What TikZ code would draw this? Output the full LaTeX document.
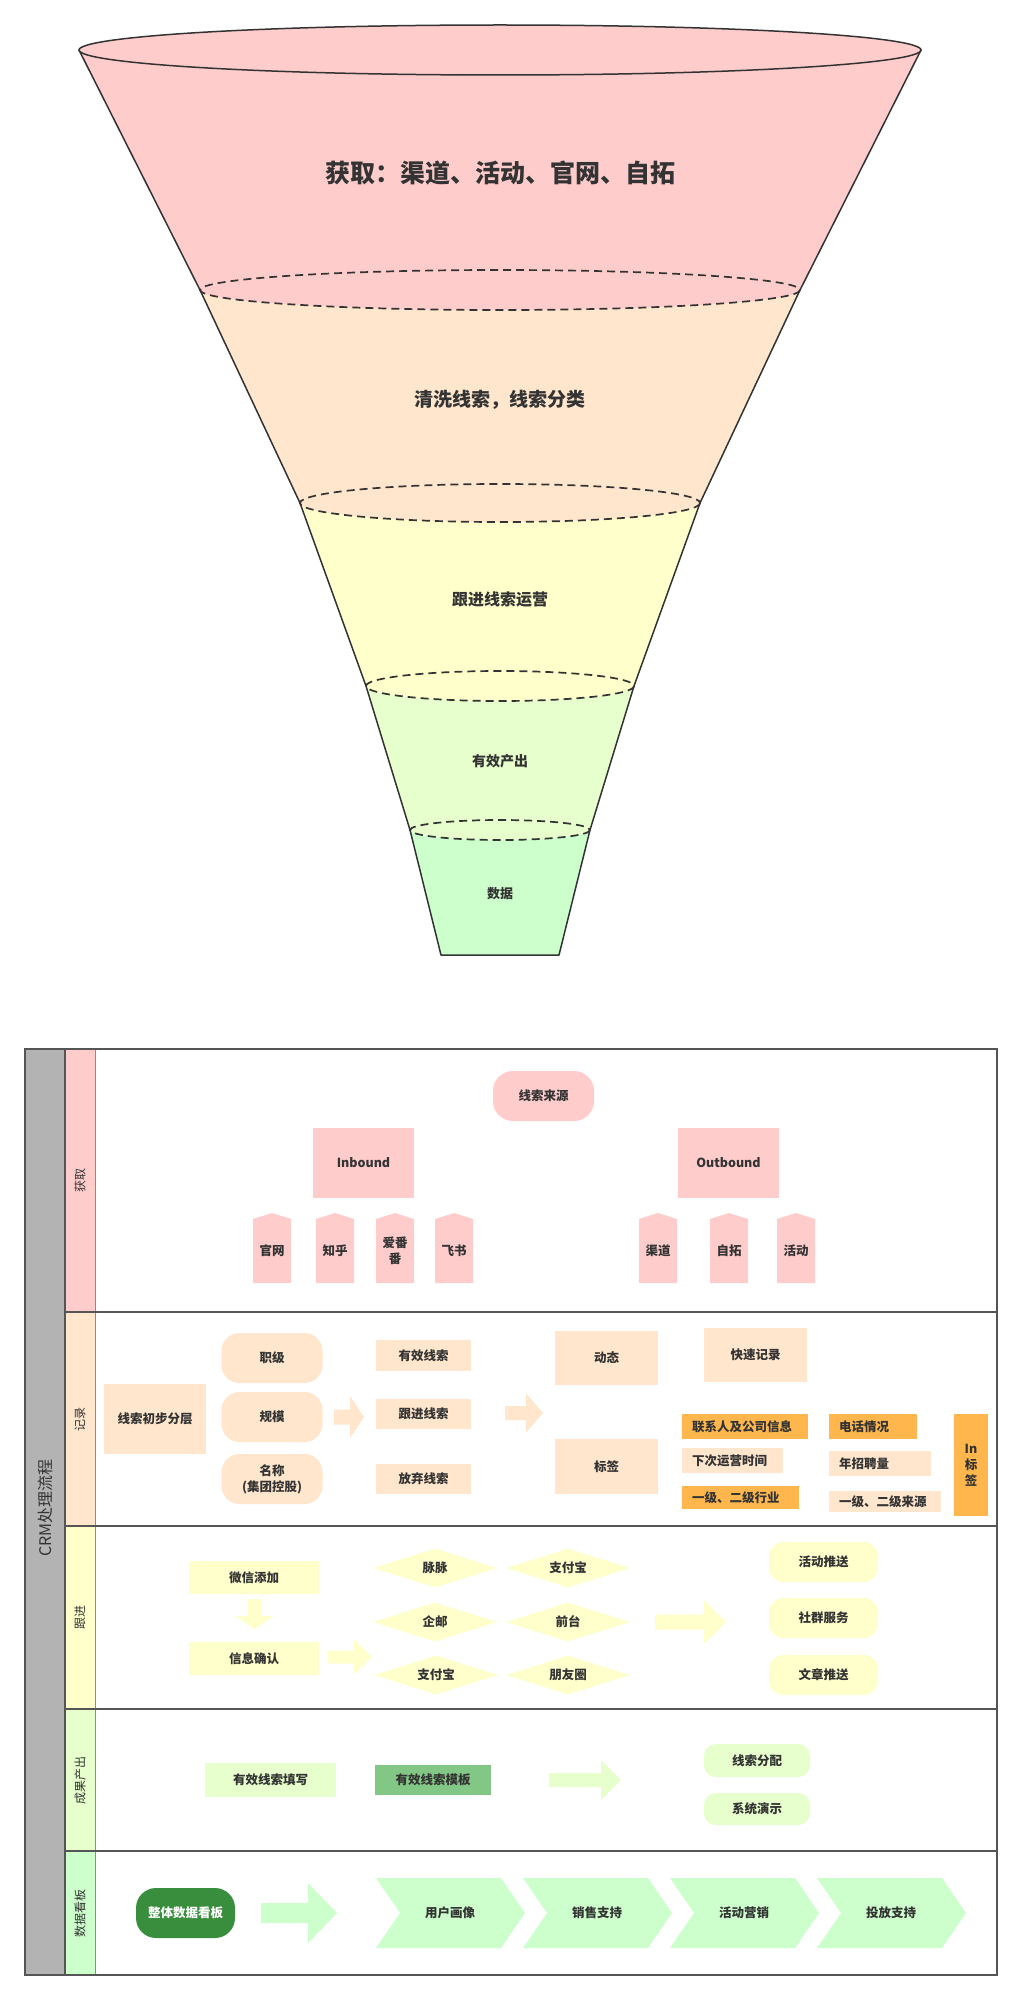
\documentclass[tikz,border=0pt]{standalone}
\usepackage{fontspec}
\setmainfont{Noto Sans CJK SC}
\usetikzlibrary{shapes.geometric}
\definecolor{cpink}{HTML}{FFCCCC}
\definecolor{cpeach}{HTML}{FFE6CC}
\definecolor{cyellow}{HTML}{FFFFCC}
\definecolor{clgreen}{HTML}{E6FFCC}
\definecolor{cgreen}{HTML}{CCFFCC}
\definecolor{corange}{HTML}{FFB74D}
\definecolor{cdkgreen}{HTML}{388E3C}
\definecolor{cmidgreen}{HTML}{82C785}
\definecolor{ctext}{HTML}{333333}
\definecolor{cline}{HTML}{333333}
\definecolor{cgray}{HTML}{B3B3B3}
\definecolor{cgrid}{HTML}{555555}
\definecolor{chdr}{HTML}{8C8C8C}
\newcommand{\blockarrowh}[7]{\fill[#7] (#1,#4-#5) -- (#2,#4-#5) -- (#2,#4-#6) -- (#3,#4) -- (#2,#4+#6) -- (#2,#4+#5) -- (#1,#4+#5) -- cycle;}
\newcommand{\pentbox}[3]{\fill[cpink] (#1-19,1219) -- (#1,1213) -- (#1+19,1219) -- (#1+19,1283) -- (#1-19,1283) -- cycle;
  \node[txt] (#2) at (#1,1251) {#3};}
\newcommand{\chevbox}[3]{\fill[cgreen] (#1,1878) -- (#1+125,1878) -- (#1+149,1913) -- (#1+125,1948) -- (#1,1948) -- (#1+24,1913) -- cycle;
  \node[txt] (#2) at (#1+74,1913) {#3};}
\begin{document}
\begin{tikzpicture}[x=1pt,y=-1pt,
  txt/.style={text=ctext,font=\bfseries\fontsize{12.5}{16}\selectfont,align=center,inner sep=0pt},
  sz/.style 2 args={minimum width=#1pt,minimum height=#2pt},
  lbox/.style={txt,align=left,anchor=west,inner xsep=10pt,inner ysep=0pt},
  lanelbl/.style={text=ctext,font=\fontsize{12}{14}\selectfont,rotate=90,inner sep=0pt},
  fline/.style={draw=cline,line width=1.5pt},
  fdash/.style={draw=cline,line width=1.7pt,dash pattern=on 8pt off 5pt},
  ftxt/.style={text=ctext,inner sep=0pt},
  dia/.style={txt,diamond,aspect=3.2,fill=cyellow,sz={124}{39}},
]
\useasboundingbox (0,0) rectangle (1022,2001);
\fill[white] (0,0) rectangle (1022,2001);

% ---------------- funnel ----------------
\fill[cgreen] (410,830) -- (441,955) -- (559,955) -- (590,830) -- cycle;
\fill[clgreen] (366,686) -- (410,830) -- (590,830) -- (634,686) -- cycle;
\fill[clgreen] (500,830) ellipse [x radius=90,y radius=10];
\fill[cyellow] (300,503) -- (366,686) -- (634,686) -- (700,503) -- cycle;
\fill[cyellow] (500,686) ellipse [x radius=134,y radius=15];
\fill[cpeach] (200,290) -- (300,503) -- (700,503) -- (800,290) -- cycle;
\fill[cpeach] (500,503) ellipse [x radius=200,y radius=19];
\fill[cpink] (79,50) -- (200,290) -- (800,290) -- (921,50) -- cycle;
\fill[cpink] (500,290) ellipse [x radius=300,y radius=20];
\fill[cpink] (500,50) ellipse [x radius=421,y radius=25];

\draw[fline,line join=round] (79,50) -- (200,290) -- (300,503) -- (366,686) -- (410,830) -- (441,955) -- (559,955) -- (590,830) -- (634,686) -- (700,503) -- (800,290) -- (921,50);
\draw[fline] (500,50) ellipse [x radius=421,y radius=25];
\draw[fdash] (500,290) ellipse [x radius=300,y radius=20];
\draw[fdash] (500,503) ellipse [x radius=200,y radius=19];
\draw[fdash] (500,686) ellipse [x radius=134,y radius=15];
\draw[fdash] (500,830) ellipse [x radius=90,y radius=10];

\node[ftxt,font=\bfseries\fontsize{25}{30}\selectfont] (f1) at (500,173) {获取：渠道、活动、官网、自拓};
\node[ftxt,font=\bfseries\fontsize{19}{23}\selectfont] (f2) at (500,400) {清洗线索，线索分类};
\node[ftxt,font=\bfseries\fontsize{16}{20}\selectfont] (f3) at (500,599) {跟进线索运营};
\node[ftxt,font=\bfseries\fontsize{14}{17}\selectfont] (f4) at (500,761) {有效产出};
\node[ftxt,font=\bfseries\fontsize{13}{16}\selectfont] (f5) at (500,894) {数据};

% ---------------- swimlanes ----------------
\fill[cgray] (25,1049) rectangle (65,1975);
\fill[cpink] (65,1049) rectangle (95,1312);
\fill[cpeach] (65,1312) rectangle (95,1526);
\fill[cyellow] (65,1526) rectangle (95,1709);
\fill[clgreen] (65,1709) rectangle (95,1851);
\fill[cgreen] (65,1851) rectangle (95,1975);
\draw[chdr,line width=1pt] (95,1049) -- (95,1975);
\draw[cgrid,line width=1.3pt] (65,1049) -- (65,1975);
\foreach \yy in {1312,1526,1709,1851} \draw[cgrid,line width=1.3pt] (65,\yy) -- (997,\yy);
\draw[cgrid,line width=1.5pt] (25,1049) rectangle (997,1975);

\node[text=ctext,font=\fontsize{16}{18}\selectfont,rotate=90,inner sep=0pt] (crm) at (45,1508) {CRM处理流程};
\node[lanelbl] (l1) at (80,1180) {获取};
\node[lanelbl] (l2) at (80,1419) {记录};
\node[lanelbl] (l3) at (80,1617) {跟进};
\node[lanelbl] (l4) at (80,1780) {成果产出};
\node[lanelbl] (l5) at (80,1913) {数据看板};

% row 1
\node[txt,fill=cpink,sz={101}{50},rounded corners=20pt] (src) at (543.5,1096) {线索来源};
\node[txt,fill=cpink,sz={101}{70}] (inb) at (363.5,1163) {Inbound};
\node[txt,fill=cpink,sz={101}{70}] (outb) at (728.5,1163) {Outbound};
\pentbox{272}{gw}{官网}
\pentbox{335}{zh}{知乎}
\pentbox{395}{afs}{爱番\\番}
\pentbox{454}{fs}{飞书}
\pentbox{658}{qd}{渠道}
\pentbox{729}{zt}{自拓}
\pentbox{796}{hd}{活动}

% row 2
\node[txt,fill=cpeach,sz={102}{70}] (fc) at (155,1419) {线索初步分层};
\node[txt,fill=cpeach,sz={101}{50},rounded corners=18pt] (zj) at (272,1358) {职级};
\node[txt,fill=cpeach,sz={101}{50},rounded corners=18pt] (gm) at (272,1417) {规模};
\node[txt,fill=cpeach,sz={101}{50},rounded corners=18pt] (mc) at (272,1479) {名称\\(集团控股)};
\blockarrowh{334}{350}{364}{1417}{7.5}{21}{cpeach}
\node[txt,fill=cpeach,sz={95}{31}] (yx) at (423.5,1355.5) {有效线索};
\node[txt,fill=cpeach,sz={95}{30}] (gj) at (423.5,1414) {跟进线索};
\node[txt,fill=cpeach,sz={95}{30}] (fq) at (423.5,1479) {放弃线索};
\blockarrowh{505}{526}{543}{1413}{7}{19.5}{cpeach}
\node[txt,fill=cpeach,sz={103}{54}] (dt) at (606.5,1358) {动态};
\node[txt,fill=cpeach,sz={103}{55}] (bq) at (606.5,1466.5) {标签};
\node[txt,fill=cpeach,sz={103}{54}] (ks) at (755.5,1355) {快速记录};
\node[lbox,fill=corange,text width=106pt,minimum height=25pt] (lxr) at (682,1426.5) {联系人及公司信息};
\node[lbox,fill=cpeach,text width=81pt,minimum height=25pt] (xc) at (682,1460.5) {下次运营时间};
\node[lbox,fill=corange,text width=97pt,minimum height=23pt] (hy) at (682,1497.5) {一级、二级行业};
\node[lbox,fill=corange,text width=68pt,minimum height=25pt] (dh) at (829,1426.5) {电话情况};
\node[lbox,fill=cpeach,text width=82pt,minimum height=25pt] (nz) at (829,1463.5) {年招聘量};
\node[lbox,fill=cpeach,text width=92pt,minimum height=21pt] (ly) at (829,1501.5) {一级、二级来源};
\node[txt,fill=corange,sz={34}{102}] (inbq) at (971,1465) {In\\标\\签};

% row 3
\node[txt,fill=cyellow,sz={130}{33}] (wx) at (254,1577.5) {微信添加};
\fill[cyellow] (248,1599) -- (261,1599) -- (261,1616) -- (273.5,1616) -- (254.5,1629) -- (235.5,1616) -- (248,1616) -- cycle;
\node[txt,fill=cyellow,sz={130}{33}] (xx) at (254,1658.5) {信息确认};
\blockarrowh{328}{354}{372}{1657}{6.5}{17.5}{cyellow}
\node[dia] (mm) at (435,1568) {脉脉};
\node[dia] (zfb1) at (568,1568) {支付宝};
\node[dia] (qy) at (435,1622) {企邮};
\node[dia] (qt) at (568,1622) {前台};
\node[dia] (zfb2) at (436,1675) {支付宝};
\node[dia] (pyq) at (568,1675) {朋友圈};
\blockarrowh{655}{704}{726}{1622}{7.5}{22}{cyellow}
\node[txt,fill=cyellow,sz={109}{40},rounded corners=14pt] (hdts) at (823.5,1562) {活动推送};
\node[txt,fill=cyellow,sz={109}{40},rounded corners=14pt] (sq) at (823.5,1618) {社群服务};
\node[txt,fill=cyellow,sz={109}{40},rounded corners=14pt] (wz) at (823.5,1675) {文章推送};

% row 4
\node[txt,fill=clgreen,sz={131}{34}] (tx) at (270.5,1780) {有效线索填写};
\node[txt,fill=cmidgreen,sz={116}{30}] (mb) at (433,1780) {有效线索模板};
\blockarrowh{549}{601}{621}{1780}{7}{20}{clgreen}
\node[txt,fill=clgreen,sz={106}{33},rounded corners=12pt] (fp) at (757,1760.5) {线索分配};
\node[txt,fill=clgreen,sz={106}{32},rounded corners=12pt] (ys) at (757,1809) {系统演示};

% row 5
\node[txt,text=white,fill=cdkgreen,sz={99}{50},rounded corners=20pt] (kb) at (185.5,1913) {整体数据看板};
\blockarrowh{261}{308}{337}{1913}{10}{30}{cgreen}
\chevbox{376}{yh}{用户画像}
\chevbox{523}{xs}{销售支持}
\chevbox{670}{yx2}{活动营销}
\chevbox{817}{tf}{投放支持}
\end{tikzpicture}
\end{document}
